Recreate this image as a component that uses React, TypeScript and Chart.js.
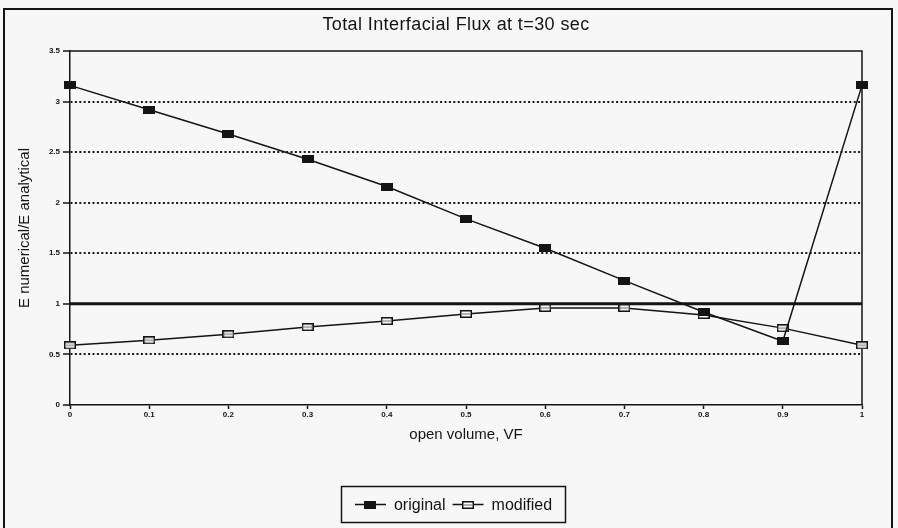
import React, { useEffect, useRef } from "react";
import { Chart, registerables } from "chart.js";

Chart.register(...registerables);

// Open volume fraction VF (x) and the flux ratio E numerical / E analytical (y)
const volumeFractions = [0, 0.1, 0.2, 0.3, 0.4, 0.5, 0.6, 0.7, 0.8, 0.9, 1];
const originalRatio = [3.16, 2.92, 2.68, 2.43, 2.16, 1.84, 1.55, 1.23, 0.92, 0.63, 3.16];
const modifiedRatio = [0.59, 0.64, 0.7, 0.77, 0.83, 0.9, 0.96, 0.96, 0.89, 0.76, 0.59];

const seriesNames = ["original", "modified"];
const referenceRatio = 1;

const xTickValues = [0, 0.1, 0.2, 0.3, 0.4, 0.5, 0.6, 0.7, 0.8, 0.9, 1];
const xTickLabels = ["0", "0.1", "0.2", "0.3", "0.4", "0.5", "0.6", "0.7", "0.8", "0.9", "1"];
const yTickValues = [0, 0.5, 1, 1.5, 2, 2.5, 3, 3.5];
const yTickLabels = ["0", "0.5", "1", "1.5", "2", "2.5", "3", "3.5"];

const chartTitle = "Total Interfacial Flux at t=30 sec";
const xAxisTitle = "open volume, VF";
const yAxisTitle = "E numerical/E analytical";

const INK = "#141414";
const PAPER = "#f7f7f7";
const SANS = "'Liberation Sans', Arial, Helvetica, sans-serif";
const NARROW = "'Liberation Sans Narrow', 'Liberation Sans', Arial, sans-serif";

// Oblong square markers used by both the plot and the legend
function makeMarker(filled: boolean): HTMLCanvasElement {
  const c = document.createElement("canvas");
  c.width = 12;
  c.height = 8;
  const g = c.getContext("2d")!;
  if (filled) {
    g.fillStyle = INK;
    g.fillRect(0, 0, 12, 8);
  } else {
    g.fillStyle = "#fbfbfb";
    g.fillRect(0, 0, 12, 8);
    g.strokeStyle = INK;
    g.lineWidth = 1.5;
    g.strokeRect(0.75, 0.75, 10.5, 6.5);
    g.strokeStyle = "#666";
    g.lineWidth = 1;
    g.beginPath();
    g.moveTo(2, 4);
    g.lineTo(10, 4);
    g.stroke();
  }
  return c;
}

// Outer frame around the whole figure, and the figure title
const framePlugin = {
  id: "figureFrame",
  afterDraw(chart: any) {
    const { ctx, width } = chart;
    ctx.save();
    ctx.strokeStyle = INK;
    ctx.lineWidth = 2;
    ctx.beginPath();
    ctx.moveTo(4, chart.height + 2);
    ctx.lineTo(4, 9);
    ctx.lineTo(width - 6, 9);
    ctx.lineTo(width - 6, chart.height + 2);
    ctx.stroke();

    ctx.fillStyle = INK;
    ctx.font = `18px ${SANS}`;
    (ctx as any).letterSpacing = "0.4px";
    ctx.textAlign = "center";
    ctx.textBaseline = "middle";
    ctx.fillText(chartTitle, 456, 25);
    ctx.restore();
  },
};

// Plot box (top and right edges) and the heavy reference line at ratio = 1
const plotBoxPlugin = {
  id: "plotBox",
  beforeDatasetsDraw(chart: any) {
    const { ctx, chartArea, scales } = chart;
    const yRef = scales.y.getPixelForValue(referenceRatio);
    ctx.save();
    ctx.strokeStyle = INK;
    ctx.lineWidth = 1.5;
    ctx.beginPath();
    ctx.moveTo(chartArea.left, chartArea.top);
    ctx.lineTo(chartArea.right, chartArea.top);
    ctx.lineTo(chartArea.right, chartArea.bottom);
    ctx.stroke();
    ctx.lineWidth = 3;
    ctx.beginPath();
    ctx.moveTo(chartArea.left, yRef);
    ctx.lineTo(chartArea.right, yRef);
    ctx.stroke();
    ctx.restore();
  },
};

// Boxed legend below the axis: line-marker-line symbol followed by the series name
const legendPlugin = {
  id: "boxedLegend",
  afterDraw(chart: any) {
    const { ctx } = chart;
    const box = { x: 341.5, y: 486.5, w: 224, h: 36 };
    const symbolW = 31;
    const gapText = 8;
    const gapItem = 7;
    ctx.save();
    ctx.font = `16px ${SANS}`;
    const items = chart.data.datasets.map((ds: any) => ({
      label: ds.label,
      marker: ds.pointStyle,
      color: ds.borderColor,
      textW: ctx.measureText(ds.label).width,
    }));
    const total =
      items.reduce((s: number, it: any) => s + symbolW + gapText + it.textW, 0) +
      gapItem * (items.length - 1);
    let x = box.x + (box.w - total) / 2;
    const cy = box.y + box.h / 2;

    ctx.strokeStyle = INK;
    ctx.lineWidth = 1.5;
    ctx.strokeRect(box.x, box.y, box.w, box.h);

    items.forEach((it: any) => {
      ctx.strokeStyle = it.color;
      ctx.lineWidth = 1.5;
      ctx.beginPath();
      ctx.moveTo(x, cy);
      ctx.lineTo(x + symbolW, cy);
      ctx.stroke();
      const m = it.marker as HTMLCanvasElement;
      ctx.drawImage(m, Math.round(x + symbolW / 2 - m.width / 2), Math.round(cy - m.height / 2));
      x += symbolW + gapText;
      ctx.fillStyle = INK;
      ctx.textBaseline = "middle";
      ctx.textAlign = "left";
      ctx.fillText(it.label, x, cy + 1);
      x += it.textW + gapItem;
    });
    ctx.restore();
  },
};

export default function App() {
  const canvasRef = useRef<HTMLCanvasElement | null>(null);

  useEffect(() => {
    const canvas = canvasRef.current;
    if (!canvas) return;
    const filled = makeMarker(true);
    const open = makeMarker(false);

    const chart = new Chart(canvas, {
      type: "line",
      data: {
        datasets: [
          {
            label: seriesNames[0],
            data: volumeFractions.map((x, i) => ({ x, y: originalRatio[i] })),
            borderColor: INK,
            borderWidth: 1.5,
            pointStyle: filled as any,
            pointRadius: 6,
            clip: false as any,
          },
          {
            label: seriesNames[1],
            data: volumeFractions.map((x, i) => ({ x, y: modifiedRatio[i] })),
            borderColor: INK,
            borderWidth: 1.5,
            pointStyle: open as any,
            pointRadius: 6,
            clip: false as any,
          },
        ],
      },
      options: {
        responsive: false,
        animation: false,
        events: [],
        layout: { padding: { left: 8, right: 36, top: 51, bottom: 0 } },
        plugins: {
          legend: { display: false },
          tooltip: { enabled: false },
          title: { display: false },
        },
        scales: {
          x: {
            type: "linear",
            min: 0,
            max: 1,
            afterBuildTicks: (scale: any) => {
              scale.ticks = xTickValues.map((value) => ({ value }));
            },
            afterFit: (scale: any) => {
              scale.height = 123;
            },
            ticks: {
              autoSkip: false,
              maxRotation: 0,
              padding: 1,
              color: INK,
              font: { family: NARROW, size: 8, weight: "bold" },
              callback: (value: any) => xTickLabels[xTickValues.indexOf(Number(value))] ?? "",
            },
            grid: {
              drawOnChartArea: false,
              drawTicks: true,
              tickLength: 4,
              tickColor: INK,
              tickWidth: 1.5,
            },
            border: { display: true, color: INK, width: 1.5 },
            title: {
              display: true,
              text: xAxisTitle,
              color: INK,
              font: { family: SANS, size: 15 },
              padding: { top: 4, bottom: 84 },
            },
          },
          y: {
            type: "linear",
            min: 0,
            max: 3.5,
            afterBuildTicks: (scale: any) => {
              scale.ticks = yTickValues.map((value) => ({ value }));
            },
            afterFit: (scale: any) => {
              scale.width = 62;
            },
            ticks: {
              autoSkip: false,
              padding: 3,
              color: INK,
              font: { family: NARROW, size: 8, weight: "bold" },
              callback: (value: any) => yTickLabels[yTickValues.indexOf(Number(value))] ?? "",
            },
            grid: {
              drawOnChartArea: true,
              drawTicks: true,
              tickLength: 7,
              tickColor: INK,
              tickWidth: 1.5,
              lineWidth: 2,
              color: (ctx: any) => {
                const v = ctx.tick ? ctx.tick.value : null;
                return v === 0 || v === referenceRatio || v === 3.5 ? "rgba(0,0,0,0)" : "#181818";
              },
            },
            border: { display: true, color: INK, width: 1.5, dash: [2, 2.4] },
            title: {
              display: true,
              text: yAxisTitle,
              color: INK,
              font: { family: SANS, size: 15 },
              padding: { top: 8, bottom: 0 },
            },
          },
        },
      },
      plugins: [plotBoxPlugin, legendPlugin, framePlugin],
    } as any);

    return () => chart.destroy();
  }, []);

  return (
    <div
      style={{
        position: "fixed",
        left: 0,
        top: 0,
        width: 898,
        height: 528,
        background: PAPER,
      }}
    >
      <canvas ref={canvasRef} width={898} height={528} style={{ display: "block" }} />
    </div>
  );
}
